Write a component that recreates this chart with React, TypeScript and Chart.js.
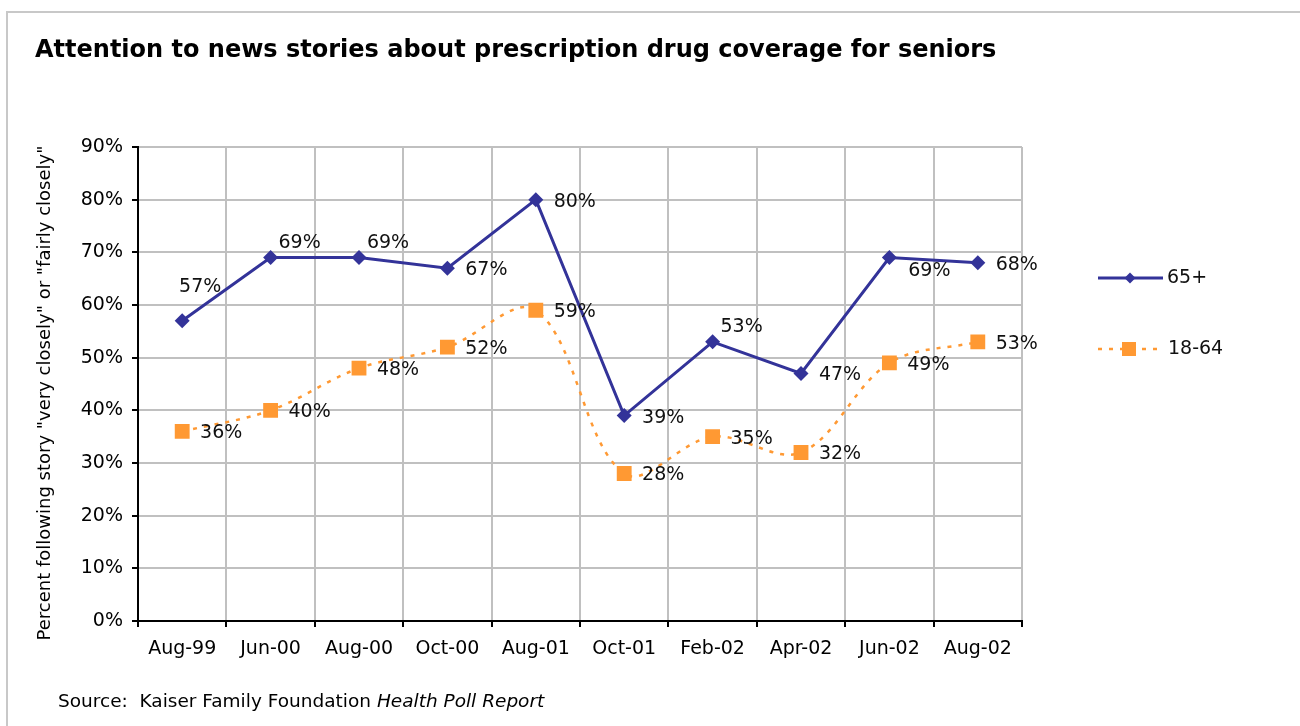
import React, { useEffect, useRef } from 'react';
import { Chart, registerables } from 'chart.js';

Chart.register(...registerables);

const titleText = 'Attention to news stories about prescription drug coverage for seniors';
const yAxisTitle = 'Percent following story "very closely" or "fairly closely"';
const sourcePrefix = 'Source:  Kaiser Family Foundation ';
const sourceItalic = 'Health Poll Report';

const categories = ['Aug-99', 'Jun-00', 'Aug-00', 'Oct-00', 'Aug-01', 'Oct-01', 'Feb-02', 'Apr-02', 'Jun-02', 'Aug-02'];
const seniorsLabel = '65+';
const seniors = [57, 69, 69, 67, 80, 39, 53, 47, 69, 68];
const adultsLabel = '18-64';
const adults = [36, 40, 48, 52, 59, 28, 35, 32, 49, 53];
const yTickValues = [0, 10, 20, 30, 40, 50, 60, 70, 80, 90];

const seniorsLabelPlacement = ['above', 'upRight', 'upRight', 'right', 'right', 'right', 'upRight', 'right', 'downRight', 'right'];
const adultsLabelPlacement = ['right', 'right', 'right', 'right', 'right', 'right', 'right', 'right', 'right', 'right'];

const BLUE = '#333399';
const ORANGE = '#FF9933';
const FONT = '"DejaVu Sans", Verdana, sans-serif';

const placementOffsets: Record<string, [number, number]> = {
  above: [18, -34],
  upRight: [29, -15],
  right: [39, 2],
  downRight: [40, 13],
};

const decorPlugin = {
  id: 'decor',
  beforeDraw(chart: any) {
    const ctx = chart.ctx;
    ctx.save();
    ctx.fillStyle = '#ffffff';
    ctx.fillRect(0, 0, chart.width, chart.height);
    ctx.fillStyle = '#c8c8c8';
    ctx.fillRect(6, 11, chart.width - 6, 2);
    ctx.fillRect(6, 11, 2, chart.height - 11);
    ctx.restore();
  },
  afterDatasetsDraw(chart: any) {
    const ctx = chart.ctx;
    const placements = [seniorsLabelPlacement, adultsLabelPlacement];
    ctx.save();
    ctx.font = `19px ${FONT}`;
    ctx.fillStyle = '#111';
    ctx.textAlign = 'center';
    ctx.textBaseline = 'middle';
    chart.data.datasets.forEach((ds: any, di: number) => {
      const meta = chart.getDatasetMeta(di);
      meta.data.forEach((pt: any, i: number) => {
        const off = placementOffsets[placements[di][i]];
        ctx.fillText(`${ds.data[i]}%`, pt.x + off[0], pt.y + off[1]);
      });
    });
    ctx.restore();
  },
  afterDraw(chart: any) {
    const ctx = chart.ctx;
    ctx.save();
    // Title
    ctx.fillStyle = '#000';
    ctx.font = `bold 24px ${FONT}`;
    ctx.textAlign = 'left';
    ctx.textBaseline = 'alphabetic';
    ctx.fillText(titleText, 35, 57);

    ctx.textBaseline = 'middle';
    // Y axis title
    ctx.save();
    ctx.translate(45, 393);
    ctx.rotate(-Math.PI / 2);
    ctx.font = `18px ${FONT}`;
    ctx.textAlign = 'center';
    ctx.fillText(yAxisTitle, 0, 0);
    ctx.restore();

    // Source
    ctx.font = `18.5px ${FONT}`;
    ctx.textAlign = 'left';
    ctx.fillText(sourcePrefix, 58, 702);
    const w = ctx.measureText(sourcePrefix).width;
    ctx.font = `italic 18.5px ${FONT}`;
    ctx.fillText(sourceItalic, 58 + w, 702);

    // Legend
    const ly1 = 278;
    ctx.strokeStyle = BLUE;
    ctx.lineWidth = 3;
    ctx.beginPath();
    ctx.moveTo(1098, ly1);
    ctx.lineTo(1163, ly1);
    ctx.stroke();
    ctx.fillStyle = BLUE;
    ctx.beginPath();
    ctx.moveTo(1130 - 5.5, ly1);
    ctx.lineTo(1130, ly1 - 5.5);
    ctx.lineTo(1130 + 5.5, ly1);
    ctx.lineTo(1130, ly1 + 5.5);
    ctx.closePath();
    ctx.fill();
    ctx.fillStyle = '#111';
    ctx.font = `19px ${FONT}`;
    ctx.fillText(seniorsLabel, 1167, ly1);

    const ly2 = 349;
    ctx.strokeStyle = ORANGE;
    ctx.lineWidth = 2.5;
    ctx.setLineDash([4, 7]);
    ctx.beginPath();
    ctx.moveTo(1098, ly2);
    ctx.lineTo(1162, ly2);
    ctx.stroke();
    ctx.setLineDash([]);
    ctx.fillStyle = ORANGE;
    ctx.fillRect(1129 - 7, ly2 - 7, 14, 14);
    ctx.fillStyle = '#111';
    ctx.fillText(adultsLabel, 1168, ly2);
    ctx.restore();
  },
};

export default function App() {
  const ref = useRef<HTMLCanvasElement | null>(null);

  useEffect(() => {
    if (!ref.current) return;
    const chart = new Chart(ref.current, {
      type: 'line',
      data: {
        labels: categories,
        datasets: [
          {
            label: seniorsLabel,
            data: seniors,
            borderColor: BLUE,
            backgroundColor: BLUE,
            borderWidth: 3,
            pointStyle: 'rectRot',
            pointRadius: 7.5,
            pointBorderWidth: 0,
            pointBackgroundColor: BLUE,
            tension: 0,
          },
          {
            label: adultsLabel,
            data: adults,
            borderColor: ORANGE,
            backgroundColor: ORANGE,
            borderWidth: 2.5,
            borderDash: [4, 7],
            pointStyle: 'rect',
            pointRadius: 10.5,
            pointBorderWidth: 0,
            pointBackgroundColor: ORANGE,
            tension: 0.35,
          },
        ],
      },
      options: {
        responsive: false,
        animation: false,
        events: [],
        layout: { padding: { top: 147, right: 278, bottom: 0, left: 0 } },
        plugins: {
          legend: { display: false },
          title: { display: false },
          tooltip: { enabled: false },
        },
        scales: {
          x: {
            offset: true,
            grid: { offset: true, color: '#c0c0c0', lineWidth: 2, tickColor: '#000', tickLength: 6, tickWidth: 2 },
            border: { color: '#000', width: 2 },
            ticks: { color: '#000', font: { family: FONT, size: 19 }, padding: 11, maxRotation: 0, autoSkip: false },
            afterFit: (s: any) => {
              s.height = 105;
            },
          },
          y: {
            min: 0,
            max: 90,
            afterBuildTicks: (s: any) => {
              s.ticks = yTickValues.map((v) => ({ value: v }));
            },
            grid: { color: '#c0c0c0', lineWidth: 2, tickColor: '#000', tickLength: 6, tickWidth: 2 },
            border: { color: '#000', width: 2 },
            ticks: {
              color: '#000',
              font: { family: FONT, size: 19 },
              padding: 9,
              callback: (v: any) => `${v}%`,
            },
            afterFit: (s: any) => {
              s.width = 138;
            },
          },
        },
      },
      plugins: [decorPlugin],
    });
    return () => chart.destroy();
  }, []);

  return (
    <div style={{ position: 'fixed', left: 0, top: 0, width: 1300, height: 726, background: '#fff' }}>
      <canvas ref={ref} width={1300} height={726} style={{ display: 'block', width: 1300, height: 726 }} />
    </div>
  );
}
